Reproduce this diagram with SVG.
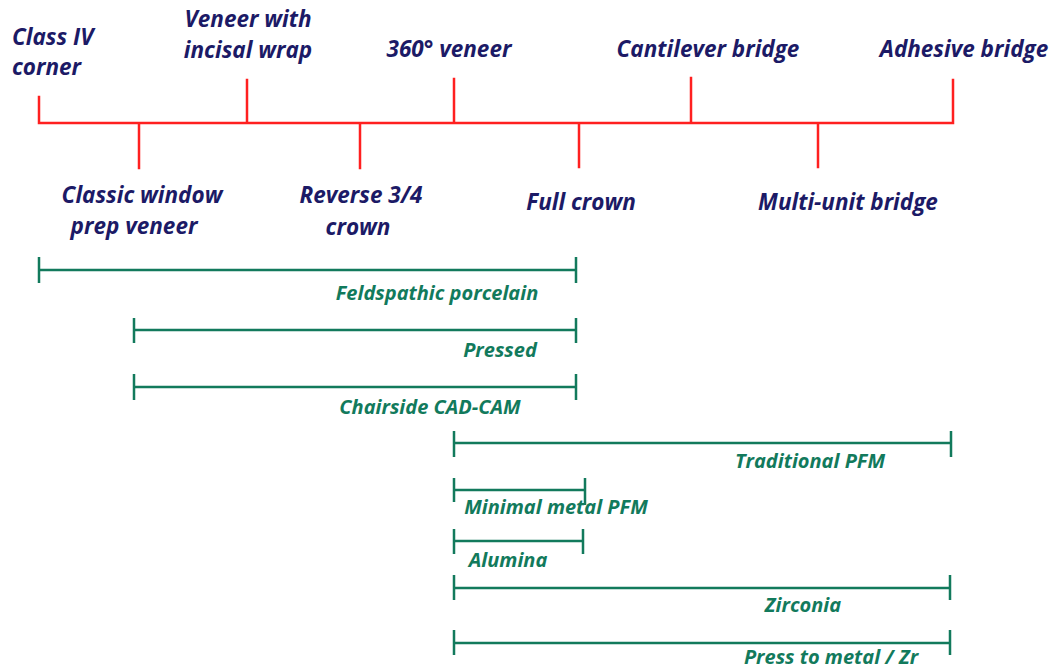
<svg xmlns="http://www.w3.org/2000/svg" width="1060" height="670" viewBox="0 0 1060 670">
<style>
.bg{fill:#ffffff}
.red{stroke:#ff2020;stroke-width:2.5;fill:none;stroke-linecap:square}
.grn{stroke:#127a5c;stroke-width:2.5;fill:none}
.lab{font-family:"Open Sans",Lato,sans-serif;font-weight:bold;font-style:italic;font-size:22.5px;fill:#1c1a66}
.mat{font-family:"Open Sans",Lato,sans-serif;font-weight:bold;font-style:italic;font-size:20px;fill:#127a5c}
</style>
<rect class="bg" x="0" y="0" width="1060" height="670"/>
<g id="connectors">
<path class="red" d="M39,123 H953 M39,97 V123 M247,80 V123 M454,79 V123 M691,78 V123 M953,80 V123 M139,123 V168 M360,123 V168 M579,123 V167 M818,123 V167"/>
<path class="grn" d="M39,270 H576 M39,257 V283 M576,257 V283"/>
<path class="grn" d="M134,330 H576 M134,318 V343 M576,318 V343"/>
<path class="grn" d="M134,387 H576 M134,374 V400 M576,374 V400"/>
<path class="grn" d="M454,443 H951 M454,431 V457 M951,431 V457"/>
<path class="grn" d="M454,490 H585 M454,478 V502 M585,478 V505"/>
<path class="grn" d="M454,541 H583 M454,529 V554 M583,529 V554"/>
<path class="grn" d="M454,588 H950 M454,575 V600 M950,575 V600"/>
<path class="grn" d="M454,643 H950 M454,630 V655 M950,630 V655"/>
</g>
<g id="class-iv"><text class="lab" x="12" y="45">Class IV</text><text class="lab" x="12" y="75">corner</text></g>
<g id="veneer-incisal"><text class="lab" x="248" y="27" text-anchor="middle">Veneer with</text><text class="lab" x="248" y="58" text-anchor="middle">incisal wrap</text></g>
<g id="veneer-360"><text class="lab" x="449" y="57" text-anchor="middle">360° veneer</text></g>
<g id="cantilever"><text class="lab" x="708" y="57" text-anchor="middle">Cantilever bridge</text></g>
<g id="adhesive"><text class="lab" x="964" y="57" text-anchor="middle">Adhesive bridge</text></g>
<g id="classic-window"><text class="lab" x="142" y="203" text-anchor="middle">Classic window</text><text class="lab" x="134" y="234" text-anchor="middle">prep veneer</text></g>
<g id="reverse"><text class="lab" x="361" y="203" text-anchor="middle">Reverse 3/4</text><text class="lab" x="358" y="235" text-anchor="middle">crown</text></g>
<g id="full-crown"><text class="lab" x="581" y="210" text-anchor="middle">Full crown</text></g>
<g id="multi-unit"><text class="lab" x="848" y="210" text-anchor="middle">Multi-unit bridge</text></g>
<g id="feldspathic"><text class="mat" x="437" y="300" text-anchor="middle">Feldspathic porcelain</text></g>
<g id="pressed"><text class="mat" x="500" y="357" text-anchor="middle">Pressed</text></g>
<g id="chairside"><text class="mat" x="430" y="414" text-anchor="middle">Chairside CAD-CAM</text></g>
<g id="traditional-pfm"><text class="mat" x="810" y="468" text-anchor="middle">Traditional PFM</text></g>
<g id="minimal-metal"><text class="mat" x="556" y="514" text-anchor="middle">Minimal metal PFM</text></g>
<g id="alumina"><text class="mat" x="508" y="567" text-anchor="middle">Alumina</text></g>
<g id="zirconia"><text class="mat" x="803" y="612" text-anchor="middle">Zirconia</text></g>
<g id="press-to-metal"><text class="mat" x="831" y="664" text-anchor="middle">Press to metal / Zr</text></g>
</svg>
